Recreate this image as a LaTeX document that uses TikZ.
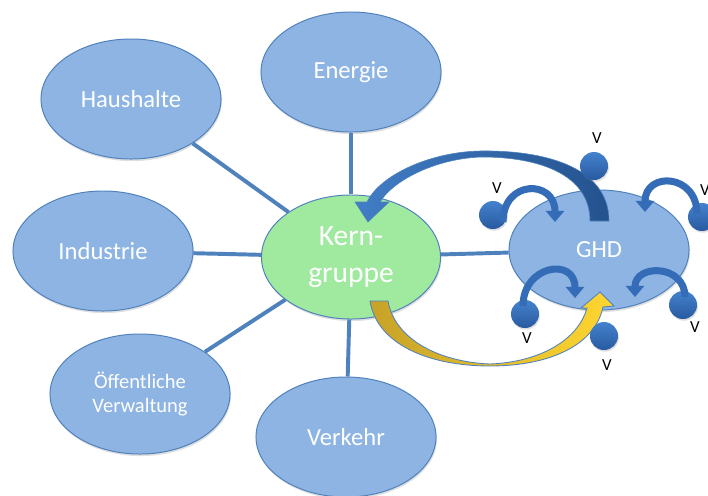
\documentclass[tikz,border=0pt]{standalone}
\usepackage{fontspec}
\setmainfont{Carlito}
\usetikzlibrary{arrows.meta,positioning,shapes.geometric,shadows,calc}
\definecolor{netzFill}{RGB}{141,180,226}
\definecolor{netzLine}{RGB}{79,129,189}
\definecolor{netzGreen}{RGB}{160,234,160}
\definecolor{netzBall}{RGB}{68,130,205}
\definecolor{netzBallDark}{RGB}{40,90,160}
\definecolor{netzArrow}{RGB}{52,108,184}
\definecolor{netzLeft}{RGB}{66,126,198}
\definecolor{netzRight}{RGB}{36,82,142}
\definecolor{netzGold}{RGB}{198,162,40}
\definecolor{netzYellow}{RGB}{255,214,48}

\begin{document}
\begin{tikzpicture}[x=0.025cm, y=-0.025cm,
    sector/.style={ellipse, draw=netzLine, fill=netzFill, line width=0.7pt,
                   minimum width=4.5cm, minimum height=3cm, text=white,
                   font=\fontsize{17.5}{21}\selectfont, align=center,
                   drop shadow={opacity=0.25, shadow xshift=0.6pt, shadow yshift=-1.5pt}},
    link/.style={netzLine, line width=2.8pt},
    ball/.style={circle, minimum size=0.7cm, inner sep=0pt,
                 top color=netzBall, bottom color=netzBallDark,
                 drop shadow={opacity=0.25, shadow xshift=0.6pt, shadow yshift=-1.2pt}},
    vtag/.style={font=\fontsize{12}{14}\selectfont, inner sep=0pt},
    hop/.style={-{Triangle[length=8pt,width=13pt]}, netzArrow, line width=5pt}
  ]
  \useasboundingbox (0,0) rectangle (708,495);

  % sectors round the core group
  \node[sector] (haus)       at (131,99)  {Haushalte};
  \node[sector] (energie)    at (351,72)  {Energie};
  \node[sector] (industrie)  at (103,251) {Industrie};
  \node[sector, font=\fontsize{14.6}{17.7}\selectfont]
                (verwaltung) at (140,394) {Öffentliche\\Verwaltung};
  \node[sector] (verkehr)    at (346,437) {Verkehr};
  \node[sector] (ghd)        at (599,250) {GHD};
  \node[sector, fill=netzGreen, minimum width=4.475cm, minimum height=3.1cm,
        font=\fontsize{21}{26.2}\selectfont] (kern) at (351,257) {Kern-\\gruppe};

  \foreach \s in {haus,energie,industrie,verwaltung,verkehr,ghd}
    \draw[link] (kern) -- (\s);

  % GHD -> Kerngruppe
  \shadedraw[left color=netzLeft, right color=netzRight, draw=netzLine, line width=0.4pt]
    (609,221) .. controls (609,165) and (540,150) .. (480,151)
    .. controls (430,152) and (380,175) .. (367,202)
    -- (355,202) -- (368,222) -- (389,202) -- (380,202)
    .. controls (395,178) and (440,158) .. (482,157)
    .. controls (540,157) and (590,175) .. (590,221) -- cycle;

  % Kerngruppe -> GHD
  \shadedraw[left color=netzGold, right color=netzYellow, draw=netzLine, line width=0.6pt]
    (370,301) .. controls (377,345) and (430,366) .. (490,366)
    .. controls (550,366) and (595,345) .. (603,307)
    -- (614,306) -- (600,292) -- (581,308) -- (587,308)
    .. controls (578,340) and (540,362) .. (490,364)
    .. controls (440,362) and (395,340) .. (388,301) -- cycle;

  % Verbraucher
  \node[ball] (vt)  at (594,166) {};
  \node[ball] (vl)  at (493,215) {};
  \node[ball] (vr)  at (702,217) {};
  \node[ball] (vbl) at (525,314) {};
  \node[ball] (vbm) at (604,336) {};
  \node[ball] (vbr) at (683,305) {};

  \node[vtag] (vt-v)  at (597,138) {V};
  \node[vtag] (vl-v)  at (497,188) {V};
  \node[vtag] (vr-v)  at (705,190) {V};
  \node[vtag] (vbl-v) at (527,338) {V};
  \node[vtag] (vbm-v) at (607,365) {V};
  \node[vtag] (vbr-v) at (695,327) {V};

  \coordinate (tl)  at (555,222);
  \coordinate (tr)  at (645,212);
  \coordinate (tbl) at (575,298);
  \coordinate (tbr) at (635,297);

  \draw[hop] ($(vl)+(10,7)$)   to[out=90, in=90, looseness=2.1] (tl);
  \draw[hop] ($(vr)+(-5,-3)$)  to[out=90, in=90, looseness=2.0] (tr);
  \draw[hop] ($(vbl)+(-2,-8)$) to[out=90, in=90, looseness=2.0] (tbl);
  \draw[hop] ($(vbr)+(2,-8)$)  to[out=90, in=90, looseness=1.7] (tbr);
\end{tikzpicture}
\end{document}
